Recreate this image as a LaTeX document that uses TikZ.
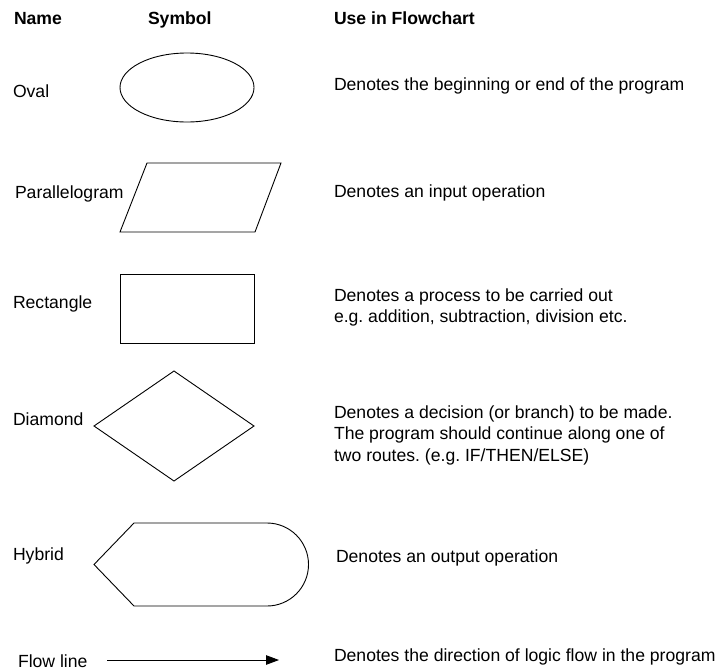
\documentclass[tikz,border=0pt]{standalone}
\usepackage{fontspec}
\setmainfont{Liberation Sans}
\usetikzlibrary{arrows.meta}
\frenchspacing
\tikzset{
  txt/.style={anchor=base west, inner sep=0pt, outer sep=0pt, font=\fontsize{17.6}{21}\selectfont\frenchspacing},
  hdr/.style={txt, font=\fontsize{17.6}{21}\selectfont\bfseries},
  shp/.style={draw=black, line width=0.9pt, line join=miter},
  flow/.style={draw=black, line width=0.9pt, -{Triangle[length=13pt,width=9.5pt]}}
}
\begin{document}
\begin{tikzpicture}[x=1pt,y=-1pt]
\useasboundingbox (0,0) rectangle (722,670);
% headers
\node[hdr] (hname) at (14,24) {Name};
\node[hdr] (hsym) at (148,24) {Symbol};
\node[hdr] (huse) at (334,24) {Use in Flowchart};
% names
\node[txt] (noval) at (13,97) {Oval};
\node[txt] (npar) at (15,198) {Parallelogram};
\node[txt] (nrect) at (13,308) {Rectangle};
\node[txt] (ndia) at (13,425) {Diamond};
\node[txt] (nhyb) at (13,560) {Hybrid};
\node[txt] (nflow) at (18,667) {Flow line};
% uses
\node[txt] (uoval) at (334,90.5) {Denotes the beginning or end of the program};
\node[txt] (upar) at (334,197) {Denotes an input operation};
\node[txt] (urect1) at (334,301) {Denotes a process to be carried out};
\node[txt] (urect2) at (334,322) {e.g. addition, subtraction, division etc.};
\node[txt] (udia1) at (334,418) {Denotes a decision (or branch) to be made.};
\node[txt] (udia2) at (334,439.5) {The program should continue along one of};
\node[txt] (udia3) at (334,461) {two routes. (e.g. IF/THEN/ELSE)};
\node[txt] (uhyb) at (336,562.5) {Denotes an output operation};
\node[txt] (uflow) at (334,661) {Denotes the direction of logic flow in the program};
% symbols
\draw[shp] (187,87.5) ellipse [x radius=67pt, y radius=34.5pt];
\draw[shp] (147,163) -- (281,163) -- (255,232) -- (120,232) -- cycle;
\draw[shp] (120,274) rectangle (254,343);
\draw[shp] (94,426) -- (174,371) -- (254,426) -- (174,481) -- cycle;
\draw[shp] (134,523) -- (267,523) arc[start angle=90, end angle=-90, radius=41.5pt] -- (134,606) -- (94,564.5) -- cycle;
\coordinate (fa) at (107,660);
\coordinate (fb) at (279,660);
\draw[flow] (fa) -- (fb);
\end{tikzpicture}
\end{document}
